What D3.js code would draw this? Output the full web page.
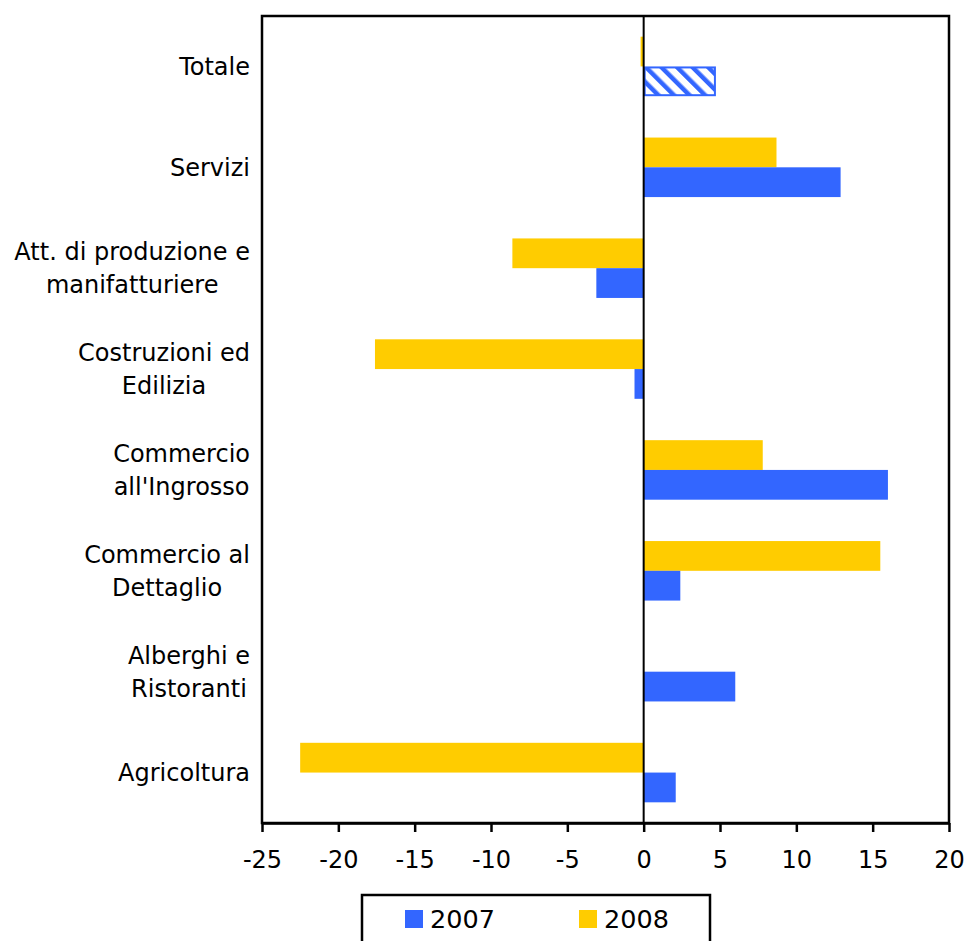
<!DOCTYPE html>
<html>
<head>
<meta charset="utf-8">
<script src="https://cdn.jsdelivr.net/npm/d3@7"></script>
<style>
  html, body { margin: 0; padding: 0; background: #fff; }
  svg { display: block; }
  text { font-family: "DejaVu Sans", Verdana, sans-serif; fill: #000; }
</style>
</head>
<body>
<svg id="chart" width="967" height="941"></svg>
<script>
// Sector categories, top to bottom
const categories = ["Totale", "Servizi", "Att. di produzione e manifatturiere", "Costruzioni ed Edilizia",
  "Commercio all'Ingrosso", "Commercio al Dettaglio", "Alberghi e Ristoranti", "Agricoltura"];
// Wrapped label lines for each category
const categoryLines = [["Totale"], ["Servizi"], ["Att. di produzione e", "manifatturiere"],
  ["Costruzioni ed", "Edilizia"], ["Commercio", "all'Ingrosso"], ["Commercio al", "Dettaglio"],
  ["Alberghi e", "Ristoranti"], ["Agricoltura"]];
// Percentage change by year
const values2007 = [4.7, 12.9, -3.1, -0.6, 16.0, 2.4, 6.0, 2.1];
const values2008 = [-0.2, 8.7, -8.6, -17.6, 7.8, 15.5, 0, -22.5];
const seriesNames = ["2007", "2008"];
const xTicks = [-25, -20, -15, -10, -5, 0, 5, 10, 15, 20];

const blue = "#3366ff", yellow = "#ffcc00";
const svg = d3.select("#chart");

const x = d3.scaleLinear().domain([-25, 20]).range([262, 949]);
const y = d3.scaleBand().domain(categories).range([16, 823]);
const barH = y.bandwidth() * 0.295;

// Hatch pattern for the total bar
const defs = svg.append("defs");
const pat = defs.append("pattern")
  .attr("id", "hatch").attr("patternUnits", "userSpaceOnUse")
  .attr("width", 11).attr("height", 11)
  .attr("patternTransform", "rotate(-45)");
pat.append("rect").attr("width", 11).attr("height", 11).attr("fill", "#fff");
pat.append("rect").attr("x", 0).attr("y", 0).attr("width", 4.5).attr("height", 11).attr("fill", blue);

// 2008 bars (upper)
svg.append("g").selectAll("rect").data(categories).join("rect")
  .attr("x", (d, i) => x(Math.min(0, values2008[i])))
  .attr("width", (d, i) => Math.abs(x(values2008[i]) - x(0)))
  .attr("y", d => y(d) + y.bandwidth() / 2 - barH)
  .attr("height", barH)
  .attr("fill", yellow);

// 2007 bars (lower); the total uses the hatch
svg.append("g").selectAll("rect").data(categories).join("rect")
  .attr("x", (d, i) => x(Math.min(0, values2007[i])) + (i === 0 ? 1 : 0))
  .attr("width", (d, i) => Math.abs(x(values2007[i]) - x(0)) - (i === 0 ? 1.5 : 0))
  .attr("y", (d, i) => y(d) + y.bandwidth() / 2 + (i === 0 ? 1 : 0))
  .attr("height", (d, i) => barH - (i === 0 ? 2 : 0))
  .attr("fill", (d, i) => i === 0 ? "url(#hatch)" : blue)
  .attr("stroke", (d, i) => i === 0 ? blue : "none")
  .attr("stroke-width", 2);

// Plot frame
svg.append("rect")
  .attr("x", x(-25)).attr("y", 16)
  .attr("width", x(20) - x(-25)).attr("height", 823 - 16)
  .attr("fill", "none").attr("stroke", "#000").attr("stroke-width", 2.5);

// Zero line
svg.append("line")
  .attr("x1", x(0)).attr("x2", x(0)).attr("y1", 16).attr("y2", 823)
  .attr("stroke", "#000").attr("stroke-width", 2);

// Bottom axis
const axis = svg.append("g").attr("transform", "translate(0,823)")
  .call(d3.axisBottom(x).tickValues(xTicks).tickFormat(d => String(d))
    .tickSize(9).tickSizeOuter(0).tickPadding(19));
axis.select(".domain").attr("stroke", "#000").attr("stroke-width", 2.5);
axis.selectAll(".tick line").attr("stroke", "#000").attr("stroke-width", 2.5);
axis.selectAll(".tick text").style("font-size", "24px").style("font-family", "DejaVu Sans, Verdana, sans-serif");

// Category labels, each block right-aligned with its lines centered
const lab = svg.append("g");
categories.forEach((c, i) => {
  const lines = categoryLines[i];
  const g = lab.append("g");
  const cy = y(c) + y.bandwidth() / 2;
  const lh = 33;
  const texts = lines.map((t, j) => g.append("text")
    .attr("y", cy + (j - (lines.length - 1) / 2) * lh)
    .attr("dy", "0.36em")
    .attr("text-anchor", "middle")
    .style("font-size", "24px")
    .text(t));
  const maxW = d3.max(texts, t => t.node().getComputedTextLength());
  texts.forEach(t => t.attr("x", 250 - maxW / 2));
});

// Legend
const leg = svg.append("g");
leg.append("rect").attr("x", 362).attr("y", 895).attr("width", 348).attr("height", 60)
  .attr("fill", "#fff").attr("stroke", "#000").attr("stroke-width", 2.5);
const legX = [405, 579];
seriesNames.forEach((s, i) => {
  leg.append("rect").attr("x", legX[i]).attr("y", 910).attr("width", 18).attr("height", 18)
    .attr("fill", i === 0 ? blue : yellow);
  leg.append("text").attr("x", legX[i] + 25).attr("y", 919).attr("dy", "0.36em")
    .style("font-size", "25.5px").text(s);
});
</script>
</body>
</html>
